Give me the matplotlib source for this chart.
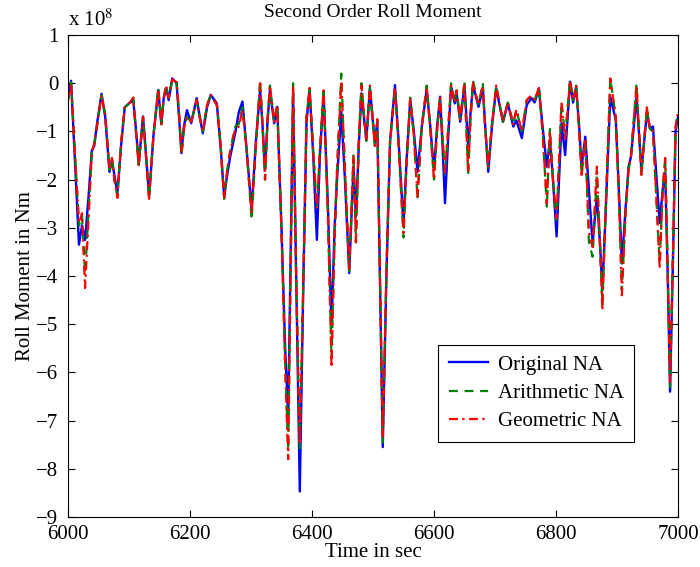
import matplotlib
matplotlib.use("Agg")
import matplotlib.pyplot as plt

# ------------------------------------------------------------
# Data (roll moment in units of 1e8 Nm)
# ------------------------------------------------------------

time_sec = [
    6000, 6005, 6012, 6018, 6023, 6028, 6034, 6039, 6043, 6048,
    6055, 6061, 6068, 6072, 6076, 6081, 6087, 6093, 6100, 6107,
    6111, 6116, 6123, 6128, 6133, 6140, 6148, 6153, 6157, 6161,
    6165, 6171, 6178, 6182, 6186, 6190, 6195, 6202, 6211, 6216,
    6221, 6228, 6234, 6244, 6250, 6256, 6261, 6266, 6274, 6280,
    6286, 6293, 6301, 6308, 6315, 6319, 6323, 6327, 6331, 6338,
    6343, 6350, 6356, 6361, 6365, 6369, 6374, 6380, 6386, 6391,
    6396, 6402, 6408, 6413, 6419, 6426, 6432, 6437, 6441, 6448,
    6454, 6461, 6468, 6472, 6477, 6481, 6489, 6495, 6503, 6507,
    6510, 6516, 6522, 6528, 6536, 6542, 6550, 6555, 6561, 6567,
    6573, 6580, 6588, 6594, 6600, 6605, 6610, 6614, 6618, 6623,
    6628, 6634, 6637, 6643, 6650, 6656, 6660, 6664, 6673, 6680,
    6684, 6689, 6695, 6702, 6713, 6721, 6730, 6735, 6744, 6752,
    6760, 6765, 6772, 6778, 6785, 6790, 6795, 6801, 6805, 6809,
    6815, 6823, 6828, 6833, 6838, 6842, 6848, 6854, 6860, 6867,
    6872, 6876, 6882, 6889, 6898, 6903, 6908, 6914, 6919, 6923,
    6932, 6940, 6949, 6954, 6959, 6965, 6970, 6975, 6979, 6983,
    6987, 6992, 6996, 7000,
]

original_na = [
    -0.30, 0.05, -1.80, -3.35, -2.95, -3.25, -2.30, -1.40, -1.30, -0.80,
    -0.22, -0.70, -1.84, -1.60, -1.90, -2.28, -1.30, -0.50, -0.42, -0.35,
    -0.90, -1.66, -0.69, -1.50, -2.35, -1.10, -0.14, -0.85, -0.30, -0.10,
    -0.35, 0.10, 0.00, -0.70, -1.45, -0.90, -0.56, -0.83, -0.31, -0.70,
    -1.04, -0.50, -0.24, -0.42, -1.30, -2.35, -1.90, -1.52, -1.04, -0.60,
    -0.38, -1.40, -2.63, -1.20, -0.14, -0.90, -1.80, -0.80, -0.14, -0.83,
    -0.49, -3.00, -5.50, -6.90, -3.50, -0.20, -4.00, -8.47, -4.00, -0.80,
    -0.14, -1.50, -3.25, -1.50, -0.21, -2.50, -5.05, -3.00, -2.00, -0.60,
    -2.00, -3.94, -1.73, -2.77, -1.20, -0.21, -1.18, -0.11, -1.24, -0.80,
    -3.00, -7.55, -4.00, -1.20, -0.04, -1.20, -2.95, -1.60, -0.35, -1.00,
    -1.84, -0.90, -0.14, -0.90, -1.80, -0.90, -0.28, -1.30, -2.49, -1.20,
    -0.07, -0.42, -0.20, -0.80, -0.04, -1.32, -0.60, -0.04, -0.49, -0.10,
    -0.90, -1.84, -0.90, -0.11, -0.80, -0.42, -0.90, -0.77, -1.14, -0.45,
    -0.31, -0.40, -0.11, -0.90, -1.73, -1.18, -2.00, -3.18, -2.00, -0.83,
    -1.49, 0.03, -0.40, -0.07, -0.90, -1.73, -1.11, -2.20, -3.32, -2.35,
    -3.30, -4.29, -2.50, -0.28, -0.76, -2.20, -3.74, -2.60, -1.73, -1.52,
    -0.28, -1.80, -0.62, -0.94, -0.90, -2.00, -2.90, -2.20, -1.87, -3.90,
    -6.40, -3.50, -1.00, -0.70,
]

arithmetic_na = [
    -0.35, 0.02, -1.60, -2.95, -2.75, -3.95, -2.60, -1.45, -1.25, -0.85,
    -0.25, -0.65, -1.80, -1.55, -2.00, -2.35, -1.25, -0.50, -0.42, -0.30,
    -0.95, -1.70, -0.70, -1.55, -2.40, -1.10, -0.10, -0.85, -0.30, -0.05,
    -0.30, 0.08, 0.02, -0.60, -1.50, -0.95, -0.70, -0.80, -0.35, -0.70,
    -1.00, -0.45, -0.25, -0.45, -1.25, -2.40, -1.80, -1.40, -0.90, -0.85,
    -0.50, -1.40, -2.84, -1.30, 0.07, -0.90, -2.00, -0.80, -0.05, -0.80,
    -0.45, -3.10, -5.80, -7.60, -3.80, 0.00, -4.00, -7.60, -4.00, -0.70,
    -0.10, -1.40, -2.60, -1.40, -0.10, -2.70, -5.70, -3.20, -1.80, 0.20,
    -1.80, -3.90, -1.50, -3.30, -1.10, 0.00, -1.20, -0.05, -1.30, -0.75,
    -3.00, -7.45, -3.90, -1.20, -0.10, -1.30, -3.20, -1.70, -0.30, -1.10,
    -2.40, -0.90, -0.05, -0.95, -2.00, -1.00, -0.30, -1.10, -1.90, -1.00,
    0.00, -0.40, -0.15, -0.75, 0.05, -1.90, -0.70, 0.05, -0.45, 0.00,
    -0.95, -1.75, -0.85, -0.05, -0.80, -0.40, -0.85, -0.55, -1.00, -0.35,
    -0.25, -0.35, -0.10, -1.00, -2.56, -0.95, -2.00, -2.84, -1.60, -0.40,
    -1.10, 0.07, -0.35, -0.05, -1.00, -1.90, -1.20, -3.30, -3.60, -1.90,
    -3.30, -4.60, -2.40, 0.10, -0.70, -2.30, -4.30, -2.70, -1.80, -1.50,
    0.00, -1.90, -0.50, -0.95, -1.00, -2.50, -3.70, -2.20, -1.55, -3.80,
    -6.30, -3.40, -0.90, -0.60,
]

geometric_na = [
    -0.35, 0.00, -1.60, -2.90, -2.70, -4.25, -2.70, -1.45, -1.25, -0.85,
    -0.25, -0.65, -1.80, -1.55, -2.00, -2.38, -1.25, -0.50, -0.42, -0.30,
    -0.95, -1.72, -0.70, -1.55, -2.40, -1.10, -0.12, -0.85, -0.30, -0.05,
    -0.30, 0.08, 0.02, -0.60, -1.45, -0.95, -0.70, -0.80, -0.35, -0.70,
    -1.00, -0.45, -0.25, -0.45, -1.25, -2.40, -1.80, -1.40, -0.95, -0.90,
    -0.55, -1.40, -2.70, -1.30, 0.00, -0.90, -2.00, -0.80, -0.05, -0.80,
    -0.45, -3.10, -5.90, -7.80, -3.90, -0.05, -4.00, -7.50, -4.00, -0.70,
    -0.10, -1.40, -2.60, -1.40, -0.15, -2.70, -5.90, -3.30, -1.80, 0.05,
    -1.80, -3.85, -1.50, -3.30, -1.10, -0.05, -1.20, -0.05, -1.30, -0.75,
    -3.00, -7.35, -3.90, -1.20, -0.10, -1.30, -3.10, -1.70, -0.30, -1.10,
    -2.35, -0.90, -0.08, -0.95, -2.00, -1.00, -0.30, -1.10, -1.85, -1.00,
    -0.05, -0.40, -0.15, -0.75, 0.00, -1.85, -0.70, 0.00, -0.45, -0.05,
    -0.95, -1.75, -0.85, -0.05, -0.80, -0.40, -0.85, -0.55, -1.00, -0.35,
    -0.25, -0.35, -0.10, -1.00, -2.50, -1.00, -2.00, -2.80, -1.60, -0.40,
    -1.20, 0.05, -0.35, -0.05, -1.00, -1.90, -1.15, -3.10, -3.40, -1.73,
    -3.30, -4.71, -2.40, 0.10, -0.70, -2.30, -4.40, -2.70, -1.80, -1.50,
    -0.05, -1.90, -0.50, -0.95, -1.00, -2.50, -3.85, -2.20, -1.55, -3.80,
    -6.20, -3.40, -0.90, -0.60,
]

x_ticks = [6000, 6200, 6400, 6600, 6800, 7000]
y_ticks = [1, 0, -1, -2, -3, -4, -5, -6, -7, -8, -9]

# ------------------------------------------------------------
# Plot
# ------------------------------------------------------------

plt.rcParams["font.family"] = ["Liberation Serif", "DejaVu Serif"]
plt.rcParams["mathtext.fontset"] = "stix"

fig = plt.figure(figsize=(7, 5.67), dpi=100)
ax = fig.add_axes([68 / 700, 50 / 567, 610 / 700, 482 / 567])

ax.plot(time_sec, original_na, color="#0000ff", lw=1.7, label="Original NA")
ax.plot(time_sec, arithmetic_na, color="#008000", lw=1.6, ls=(0, (4, 3)),
        label="Arithmetic NA")
ax.plot(time_sec, geometric_na, color="#ff0000", lw=1.6, ls=(0, (4, 2, 1, 2)),
        label="Geometric NA")

ax.set_xlim(6000, 7000)
ax.set_ylim(-9, 1)
ax.set_xticks(x_ticks)
ax.set_yticks(y_ticks)

ax.tick_params(direction="in", length=5, width=0.8, top=True, right=True,
               labelsize=15)
ax.tick_params(axis="y", pad=7)
ax.tick_params(axis="x", pad=6)
for sp in ax.spines.values():
    sp.set_linewidth(0.8)

ax.set_title("Second Order Roll Moment", fontsize=14, pad=13)
ax.set_xlabel("Time in sec", fontsize=15, labelpad=-1)
ax.set_ylabel("Roll Moment in Nm", fontsize=15, labelpad=1)

fig.text(68 / 700, 1 - 26 / 567, r"x 10$^{8}$", fontsize=15, va="baseline")

leg = ax.legend(loc="lower left", bbox_to_anchor=(0.607, 0.156),
                fontsize=15, frameon=True, fancybox=False, framealpha=1,
                edgecolor="black", handlelength=1.9, labelspacing=0.42,
                borderpad=0.5, handletextpad=0.45, borderaxespad=0)
leg.get_frame().set_linewidth(0.8)

fig.savefig("out.png", dpi=100)
